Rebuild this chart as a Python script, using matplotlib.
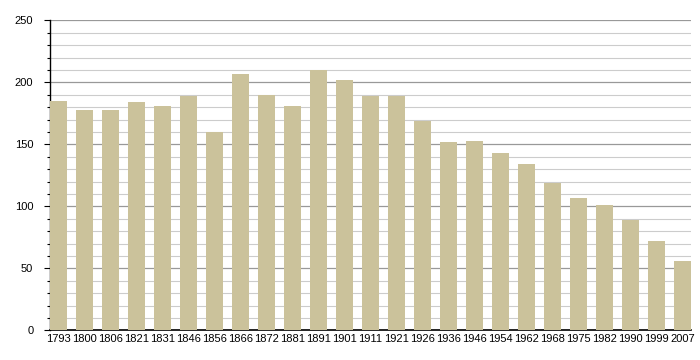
import matplotlib
matplotlib.use("Agg")
import matplotlib.pyplot as plt
from matplotlib.ticker import MultipleLocator

years = ["1793", "1800", "1806", "1821", "1831", "1846", "1856", "1866", "1872",
         "1881", "1891", "1901", "1911", "1921", "1926", "1936", "1946", "1954",
         "1962", "1968", "1975", "1982", "1990", "1999", "2007"]
population = [185, 178, 178, 184, 181, 189, 160, 207, 190,
              181, 210, 202, 189, 189, 169, 152, 153, 143,
              134, 119, 107, 101, 89, 72, 56]

plt.rcParams['font.family'] = ['Liberation Sans Narrow', 'Liberation Sans', 'DejaVu Sans']

fig = plt.figure(figsize=(7, 3.6), dpi=100)
ax = fig.add_axes([0.0714, 0.0825, 0.9157, 0.861])

w = 0.645
x = list(range(len(years)))
ax.bar(x, population, width=w, color="#cbc29b", zorder=3)

ax.set_xlim(-w / 2, len(years) - 1 + w / 2)
ax.set_ylim(0, 250)
ax.yaxis.set_major_locator(MultipleLocator(50))
ax.yaxis.set_minor_locator(MultipleLocator(10))
ax.grid(axis='y', which='minor', color='#cccccc', linewidth=0.8, zorder=0)
ax.grid(axis='y', which='major', color='#999999', linewidth=0.9, zorder=1)
ax.set_xticks(x)
ax.set_xticklabels(years, fontsize=8)
ax.tick_params(axis='x', length=0, pad=3)
ax.tick_params(axis='y', which='major', length=4, width=0.8, labelsize=8, pad=8)
ax.tick_params(axis='y', which='minor', length=2, width=0.8)

for s in ['top', 'right']:
    ax.spines[s].set_visible(False)
ax.spines['left'].set_linewidth(1.0)
ax.spines['bottom'].set_linewidth(1.2)

fig.savefig("out.png", dpi=100)
